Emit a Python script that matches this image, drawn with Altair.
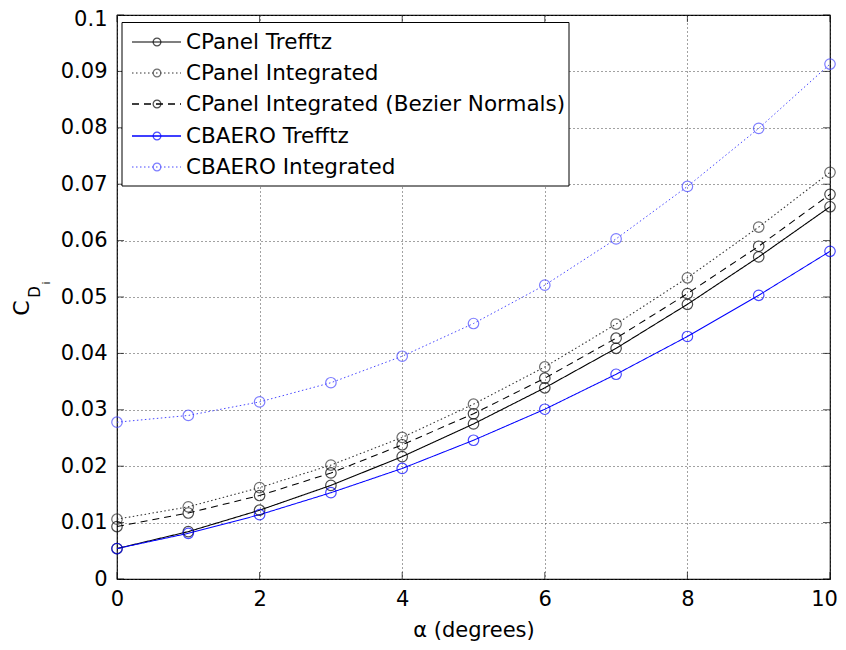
import altair as alt
import pandas as pd

alpha = list(range(11))
series_names = [
    "CPanel Trefftz",
    "CPanel Integrated",
    "CPanel Integrated (Bezier Normals)",
    "CBAERO Trefftz",
    "CBAERO Integrated",
]
cpanel_trefftz = [0.0054, 0.0084, 0.0122, 0.0166, 0.0217, 0.0275, 0.0339, 0.0409, 0.0487, 0.0571, 0.0660]
cpanel_integrated = [0.0106, 0.0128, 0.0162, 0.0202, 0.0251, 0.0310, 0.0376, 0.0452, 0.0534, 0.0624, 0.0721]
cpanel_bezier = [0.0093, 0.0117, 0.0148, 0.0188, 0.0238, 0.0293, 0.0356, 0.0427, 0.0506, 0.0590, 0.0682]
cbaero_trefftz = [0.0054, 0.0081, 0.0114, 0.0153, 0.0196, 0.0246, 0.0301, 0.0363, 0.0430, 0.0503, 0.0581]
cbaero_integrated = [0.0278, 0.0290, 0.0314, 0.0348, 0.0395, 0.0453, 0.0521, 0.0603, 0.0696, 0.0799, 0.0913]
x_ticks = [0, 2, 4, 6, 8, 10]
y_ticks = [0, 0.01, 0.02, 0.03, 0.04, 0.05, 0.06, 0.07, 0.08, 0.09, 0.1]

all_values = [cpanel_trefftz, cpanel_integrated, cpanel_bezier, cbaero_trefftz, cbaero_integrated]
rows = []
for name, vals in zip(series_names, all_values):
    for a, v in zip(alpha, vals):
        rows.append({"alpha": a, "cd": v, "series": name})
df = pd.DataFrame(rows)

colors = ["#000000", "#333333", "#000000", "#0000ff", "#4848ff"]
dashes = [[1, 0], [1.5, 2.5], [7, 5], [1, 0], [1.5, 2.5]]
widths = [1.1, 1.0, 1.4, 1.3, 1.0]

W, H = 713, 564
FONT = "DejaVu Sans"

xs = alt.Scale(domain=[0, 10], nice=False)
ys = alt.Scale(domain=[0, 0.1], nice=False)

base = alt.Chart(df)
color_enc = alt.Color("series:N", scale=alt.Scale(domain=series_names, range=colors), legend=None)

lines = base.mark_line().encode(
    x=alt.X("alpha:Q", scale=xs,
            axis=alt.Axis(values=x_ticks, title="α (degrees)", format="d", ticks=False, domain=False,
                          labelFlush=False,
                          labelOffset={"condition": {"test": "datum.value >= 9.9", "value": -6}, "value": 0},
                          labelFontSize=21, labelFont=FONT, labelPadding=9, labelColor="#000",
                          titleFont=FONT, titleFontSize=21, titleFontWeight="normal",
                          titleColor="#000", titlePadding=10,
                          grid=True, gridDash=[1, 3], gridColor="#444", gridWidth=1)),
    y=alt.Y("cd:Q", scale=ys,
            axis=alt.Axis(values=y_ticks, title=None, format="~g", ticks=False, domain=False,
                          labelFlush=False,
                          labelOffset={"condition": {"test": "datum.value >= 0.099", "value": 4}, "value": 0},
                          labelFontSize=21, labelFont=FONT, labelPadding=10, labelColor="#000",
                          grid=True, gridDash=[1, 3], gridColor="#444", gridWidth=1)),
    color=color_enc,
    strokeDash=alt.StrokeDash("series:N", scale=alt.Scale(domain=series_names, range=dashes), legend=None),
    strokeWidth=alt.StrokeWidth("series:N", scale=alt.Scale(domain=series_names, range=widths), legend=None),
    detail="series:N",
)

points = base.mark_point(shape="circle", filled=False, size=110, strokeWidth=1.2).encode(
    x=alt.X("alpha:Q", scale=xs),
    y=alt.Y("cd:Q", scale=ys),
    color=color_enc,
)

# inward ticks on all four sides
xt = pd.DataFrame({"t": x_ticks})
yt = pd.DataFrame({"t": y_ticks})
tick_layers = [
    alt.Chart(xt).mark_tick(orient="vertical", size=7, thickness=1, color="#000").encode(
        x=alt.X("t:Q", scale=xs), y=alt.value(H - 3.5)),
    alt.Chart(xt).mark_tick(orient="vertical", size=7, thickness=1, color="#000").encode(
        x=alt.X("t:Q", scale=xs), y=alt.value(3.5)),
    alt.Chart(yt).mark_tick(orient="horizontal", size=7, thickness=1, color="#000").encode(
        y=alt.Y("t:Q", scale=ys), x=alt.value(3.5)),
    alt.Chart(yt).mark_tick(orient="horizontal", size=7, thickness=1, color="#000").encode(
        y=alt.Y("t:Q", scale=ys), x=alt.value(W - 3.5)),
]

# y-axis title C_{D_i}
one = pd.DataFrame({"k": [0]})
ytitle = [
    alt.Chart(one).mark_text(text="C", font=FONT, fontSize=22, angle=270, align="center",
                             baseline="middle", color="#000").encode(x=alt.value(-95), y=alt.value(293)),
    alt.Chart(one).mark_text(text="D", font=FONT, fontSize=15, angle=270, align="center",
                             baseline="middle", color="#000").encode(x=alt.value(-82), y=alt.value(277)),
    alt.Chart(one).mark_text(text="i", font=FONT, fontSize=11, angle=270, align="center",
                             baseline="middle", color="#000").encode(x=alt.value(-70), y=alt.value(268)),
]

# legend box
legend_layers = [
    alt.Chart(one).mark_rect(fill="white", stroke="#000", strokeWidth=1).encode(
        x=alt.value(5), x2=alt.value(452), y=alt.value(7.5), y2=alt.value(171))
]
row_y = [27, 58, 89, 121, 152]
for name, c, d, w, yy in zip(series_names, colors, dashes, widths, row_y):
    legend_layers.append(
        alt.Chart(one).mark_rule(color=c, strokeDash=d, strokeWidth=w).encode(
            x=alt.value(15), x2=alt.value(64), y=alt.value(yy)))
    legend_layers.append(
        alt.Chart(one).mark_point(shape="circle", filled=False, size=60, strokeWidth=1.2, color=c).encode(
            x=alt.value(40), y=alt.value(yy)))
    legend_layers.append(
        alt.Chart(one).mark_text(text=name, font=FONT, fontSize=21.5, align="left", baseline="middle",
                                 color="#000").encode(x=alt.value(69), y=alt.value(yy + 1)))

chart = alt.layer(lines, points, *tick_layers, *ytitle, *legend_layers).properties(
    width=W, height=H,
    autosize=alt.AutoSizeParams(type="none"),
    padding={"left": 109, "top": 7, "right": 8, "bottom": 63},
    background="white",
).configure_view(stroke="#000", strokeWidth=1.2)

chart.save("out.html", embed_options={"renderer": "svg", "actions": False})
